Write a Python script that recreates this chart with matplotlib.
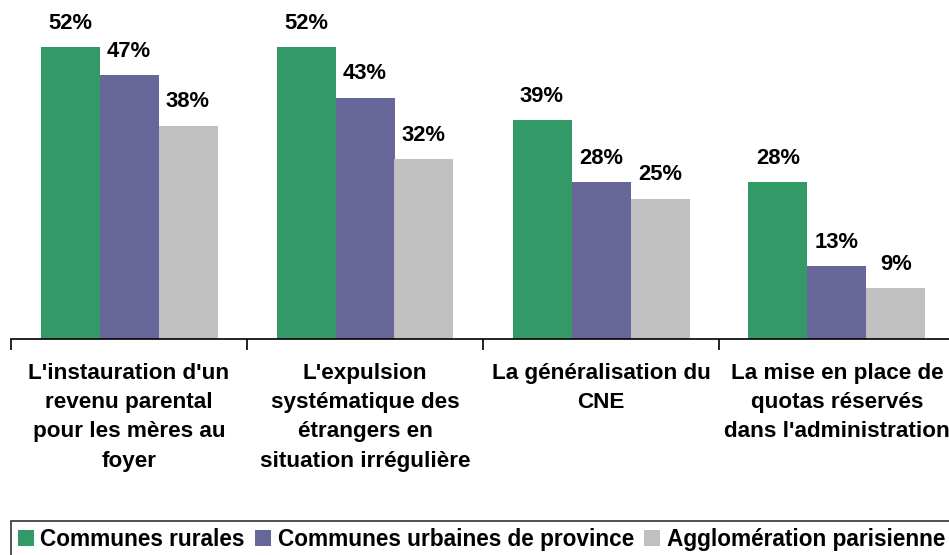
import matplotlib
matplotlib.use("Agg")
import matplotlib.pyplot as plt
import numpy as np
from matplotlib.patches import Patch

categories = ["L'instauration d'un\nrevenu parental\npour les mères au\nfoyer",
              "L'expulsion\nsystématique des\nétrangers en\nsituation irrégulière",
              "La généralisation du\nCNE",
              "La mise en place de\nquotas réservés\ndans l'administration"]
series_names = ["Communes rurales", "Communes urbaines de province", "Agglomération parisienne"]
rurales = [52, 52, 39, 28]
urbaines = [47, 43, 28, 13]
paris = [38, 32, 25, 9]
colors = ["#339966", "#666699", "#C0C0C0"]

plt.rcParams['font.family'] = ['Liberation Sans', 'DejaVu Sans']
fig = plt.figure(figsize=(9.49, 5.55), dpi=100)
W, H = 949, 555
ax = fig.add_axes([11 / W, 1 - 339 / H, 944 / W, 339 / H])

x = np.arange(len(categories))
w = 0.25
for i, (vals, c) in enumerate(zip([rurales, urbaines, paris], colors)):
    bars = ax.bar(x + (i - 1) * w, vals, width=w, color=c, edgecolor='none')
    for b, v in zip(bars, vals):
        ax.annotate(f"{v}%", (b.get_x() + b.get_width() / 2, v), xytext=(0, 9.5),
                    textcoords='offset points', ha='center', va='bottom',
                    fontsize=15.8, fontweight='bold')

ax.set_xlim(-0.5, 3.5)
ax.set_ylim(0, 339 / (292 / 52))
for s in ['left', 'right', 'top']:
    ax.spines[s].set_visible(False)
ax.spines['bottom'].set_linewidth(1.2)
ax.set_yticks([])
ax.set_xticks(x)
ax.set_xticklabels(categories, fontsize=16.2, fontweight='bold', linespacing=1.52)
ax.tick_params(axis='x', which='major', length=0, pad=17)
ax.set_xticks(np.arange(-0.5, 4, 1), minor=True)
ax.tick_params(axis='x', which='minor', length=8, width=1.2, direction='out')

handles = [Patch(facecolor=c, edgecolor='none') for c in colors]
leg = fig.legend(handles, series_names, loc='upper left', bbox_to_anchor=(11 / W, 1 - 521 / H),
                 ncol=3, prop={'weight': 'bold', 'size': 16.3},
                 frameon=True, fancybox=False, edgecolor='black', borderpad=0.3,
                 handlelength=0.7, handleheight=0.7, handletextpad=0.3, columnspacing=0.45,
                 borderaxespad=0)
leg.get_frame().set_linewidth(1.2)

fig.savefig("out.png", dpi=100)
